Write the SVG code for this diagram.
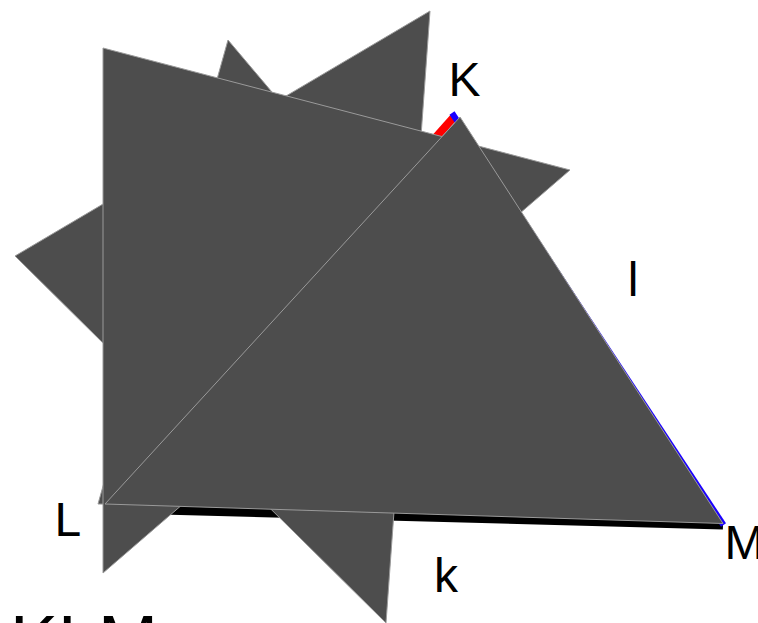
<svg xmlns="http://www.w3.org/2000/svg" width="758" height="623" viewBox="0 0 758 623">
<style>
.tri{fill:#4d4d4d;stroke:#9a9a9a;stroke-width:1;stroke-linejoin:miter}
.lbl{font-family:"Liberation Sans",Arial,sans-serif;font-size:48px;fill:#000}
.big{font-family:"Liberation Sans",Arial,sans-serif;font-size:72px;fill:#000}
.seg{fill:none;stroke-linecap:butt}
</style>
<rect width="758" height="623" fill="#fff"/>
<g id="connectors">
<line id="seg-k" class="seg" x1="104" y1="508" x2="723" y2="524.5" stroke="#000" stroke-width="10"/>
<line id="seg-m" class="seg" x1="454" y1="117" x2="106" y2="507" stroke="#ff0000" stroke-width="8"/>
<line id="seg-l" class="seg" x1="452" y1="113" x2="723.5" y2="525" stroke="#1a00ff" stroke-width="6"/>
</g>
<g id="tri3"><polygon class="tri" points="15,256 430,11 386,623"/></g>
<g id="tri4"><polygon class="tri" points="98,504 625,510 228,40"/></g>
<g id="tri2"><polygon class="tri" points="103,48 570,170 103,573"/></g>
<g id="triKLM"><polygon class="tri" points="460,117 105,504 723,523.5"/></g>
<g id="label-K"><text class="lbl" x="448.5" y="96">K</text></g>
<g id="label-l"><text class="lbl" x="627.8" y="296">l</text></g>
<g id="label-L"><text class="lbl" x="54.5" y="536">L</text></g>
<g id="label-M"><text class="lbl" x="724.5" y="559">M</text></g>
<g id="label-k"><text class="lbl" x="434" y="592">k</text></g>
<g id="label-KLM"><text class="big" x="10" y="666">KLM</text></g>
</svg>
